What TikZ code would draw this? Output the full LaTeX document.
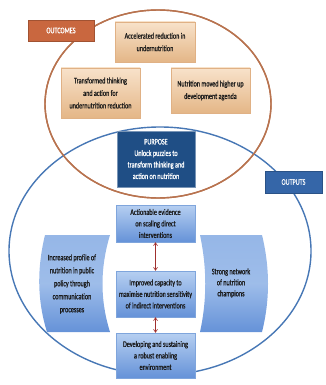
\documentclass[tikz,border=0pt]{standalone}
\usepackage{fontspec}
\setmainfont{Carlito}[FakeStretch=0.72,FakeBold=0.8]
\usetikzlibrary{arrows.meta}
\definecolor{tanT}{HTML}{F8E2CA}
\definecolor{tanB}{HTML}{E4B687}
\definecolor{tanD}{HTML}{E0B185}
\definecolor{bluT}{HTML}{B6CFF1}
\definecolor{bluB}{HTML}{6592D8}
\definecolor{bluD}{HTML}{7FA5DC}
\definecolor{navy}{HTML}{1F4E85}
\definecolor{brownline}{HTML}{B8734F}
\definecolor{blueline}{HTML}{4777B5}
\definecolor{outc}{HTML}{C9673F}
\definecolor{outp}{HTML}{3566A8}
\definecolor{arr}{HTML}{A0302E}
\definecolor{txt}{HTML}{1A1A1A}
\tikzset{
  tanbox/.style={draw=tanD, top color=tanT, bottom color=tanB, text=txt,
    align=center, inner sep=1pt, font=\fontsize{8.5}{12.5}\selectfont},
  blubox/.style={draw=bluD, top color=bluT, bottom color=bluB, text=txt,
    align=center, inner sep=1pt, font=\fontsize{8.5}{11.5}\selectfont},
  sidebox/.style={top color=bluT!60!bluB, bottom color=bluB, middle color=bluT!70!bluB},
  label/.style={text=white, align=center, inner sep=1pt, font=\fontsize{8.5}{10}\selectfont},
  dblarrow/.style={draw=arr, line width=0.6pt, {Straight Barb[length=3pt,width=4pt]}-{Straight Barb[length=3pt,width=4pt]}}
}
\begin{document}
\begin{tikzpicture}[x=1pt,y=-1pt]
\useasboundingbox (0,0) rectangle (326,385);
% ellipses
\draw[brownline, line width=1.4pt, fill=white] (158,104) ellipse [x radius=113, y radius=94];
\draw[blueline, line width=1.4pt] (160,251) ellipse [x radius=151, y radius=124];
\draw[brownline, line width=1.4pt] (158,104) ellipse [x radius=113, y radius=94];
% outcome boxes
\node[tanbox, minimum width=80pt, minimum height=40pt] (acc) at (155,42)
  {Accelerated reduction in\\undernutrition};
\node[tanbox, minimum width=79pt, minimum height=50pt] (trans) at (100.5,93)
  {Transformed thinking\\and action for\\undernutrition reduction};
\node[tanbox, minimum width=79pt, minimum height=45pt] (nutr) at (210.5,90.5)
  {Nutrition moved higher up\\development agenda};
% purpose
\node[draw=navy!60, fill=navy, text=white, align=center, inner sep=1pt,
  minimum width=78pt, minimum height=56pt, font=\fontsize{8.5}{11.5}\selectfont] (purp) at (156,159)
  {PURPOSE\\Unlock puzzles to\\transform thinking and\\action on nutrition};
% output boxes
\node[blubox, minimum width=79pt, minimum height=37pt] (act) at (155.5,223.5)
  {Actionable evidence\\on scaling direct\\interventions};
\node[blubox, minimum width=79pt, minimum height=46pt] (imp) at (155.5,294)
  {Improved capacity to\\maximise nutrition sensitivity\\of indirect interventions};
\node[blubox, minimum width=79pt, minimum height=45pt] (dev) at (155.5,355.5)
  {Developing and sustaining\\a robust enabling\\environment};
% side shapes
\path[sidebox] (45,235) -- (110,235) .. controls (100,268) and (100,300) .. (110,332)
  -- (47,332) .. controls (37,300) and (37,268) .. (45,235) -- cycle;
\node[text=txt, align=center, inner sep=0pt, font=\fontsize{8.5}{13}\selectfont] (prof) at (72,284)
  {Increased profile of\\nutrition in public\\policy through\\communication\\processes};
\path[sidebox] (200,235) -- (262,235) .. controls (270,268) and (270,300) .. (262,332)
  -- (200,332) .. controls (207,300) and (207,268) .. (200,235) -- cycle;
\node[text=txt, align=center, inner sep=0pt, font=\fontsize{8.5}{11}\selectfont] (netw) at (231,283)
  {Strong network\\of nutrition\\champions};
% arrows
\draw[dblarrow] (act.south) -- (imp.north);
\draw[dblarrow] (imp.south) -- (dev.north);
% labels
\node[label, draw=outc!80!black, fill=outc, minimum width=66pt, minimum height=21pt] (outcl) at (61,30.5) {OUTCOMES};
\node[label, draw=outp!80!black, fill=outp, minimum width=57pt, minimum height=22pt] (outpl) at (293.5,182) {OUTPUTS};
\end{tikzpicture}
\end{document}
